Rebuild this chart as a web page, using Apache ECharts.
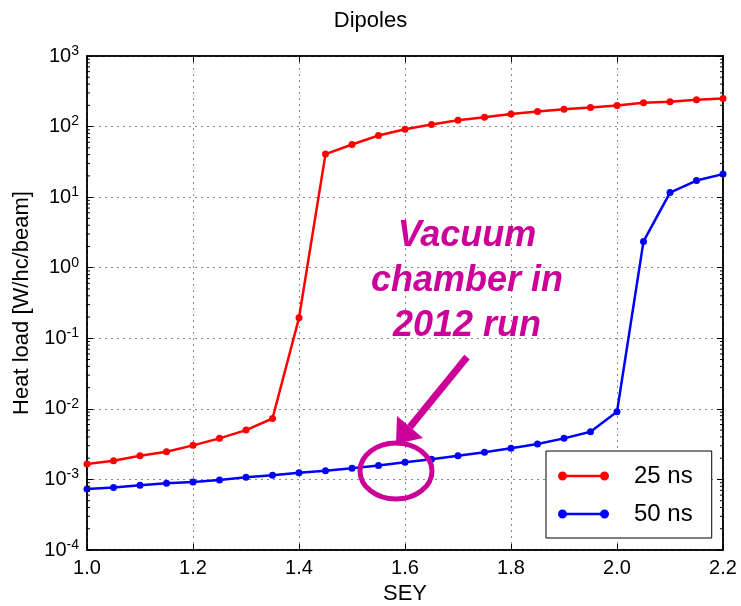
<!DOCTYPE html>
<html>
<head>
<meta charset="utf-8">
<script src="https://cdn.jsdelivr.net/npm/echarts@6/dist/echarts.min.js"></script>
<style>
  html, body { margin: 0; padding: 0; background: #fff; }
  #main { width: 741px; height: 606px; }
</style>
</head>
<body>
<div id="main"></div>
<script>
var sey = [1.00, 1.05, 1.10, 1.15, 1.20, 1.25, 1.30, 1.35, 1.40, 1.45, 1.50, 1.55, 1.60,
           1.65, 1.70, 1.75, 1.80, 1.85, 1.90, 1.95, 2.00, 2.05, 2.10, 2.15, 2.20];
var load25 = [1.65e-3, 1.84e-3, 2.17e-3, 2.47e-3, 3.04e-3, 3.82e-3, 5.0e-3, 7.3e-3, 0.195,
              40.7, 55.7, 74.8, 91.8, 107, 123, 136, 151, 163, 176, 186, 199, 217, 224, 239, 250];
var load50 = [7.3e-4, 7.7e-4, 8.25e-4, 8.8e-4, 9.2e-4, 9.8e-4, 1.07e-3, 1.15e-3, 1.24e-3,
              1.33e-3, 1.44e-3, 1.58e-3, 1.75e-3, 1.93e-3, 2.17e-3, 2.42e-3, 2.76e-3, 3.18e-3,
              3.82e-3, 4.74e-3, 9.1e-3, 2.36, 11.6, 17.2, 21.2];
var seriesNames = ['25 ns', '50 ns'];
var noteLines = ['Vacuum', 'chamber in', '2012 run'];

// minor ticks of the log axis (2..9 in each decade)
var minorTicks = [];
for (var d = -4; d < 3; d++) {
  for (var m = 2; m <= 9; m++) minorTicks.push([1.0, m * Math.pow(10, d)]);
}

var font = '"Liberation Sans", Arial, sans-serif';
var magenta = '#cc0099';

// legend icon: line with a marker at each end (matplotlib style)
function disc(cx, cy, r) {
  var s = '';
  for (var k = 0; k < 16; k++) {
    var a = k / 16 * Math.PI * 2;
    s += (k ? 'L' : 'M') + (cx + r * Math.cos(a)).toFixed(2) + ',' + (cy + r * Math.sin(a)).toFixed(2);
  }
  return s + 'Z';
}
var legendIcon = 'path://' + disc(4.5, 4.5, 4.5) + disc(46.5, 4.5, 4.5) +
                 'M4.5,3.3L46.5,3.3L46.5,5.7L4.5,5.7Z';

function pair(xs, ys) {
  var out = [];
  for (var i = 0; i < xs.length; i++) out.push([xs[i], ys[i]]);
  return out;
}

var myChart = echarts.init(document.getElementById('main'));

var option = {
  backgroundColor: '#fff',
  animation: false,
  title: {
    text: 'Dipoles',
    left: 'center',
    top: 5,
    textStyle: { fontFamily: font, fontSize: 22, fontWeight: 'normal', color: '#000' }
  },
  grid: {
    left: 87, right: 18, top: 56, bottom: 56,
    outerBoundsMode: 'none',
    show: true, borderColor: '#000', borderWidth: 1.5
  },
  legend: {
    orient: 'vertical',
    left: 546,
    top: 451,
    padding: [13, 19, 12, 12],
    itemGap: 14,
    itemWidth: 51,
    itemHeight: 9,
    icon: legendIcon,
    itemStyle: { borderWidth: 0 },
    borderColor: '#000',
    borderWidth: 1,
    backgroundColor: '#fff',
    textStyle: { fontFamily: font, fontSize: 24, color: '#000', padding: [0, 0, 0, 20] },
    data: seriesNames
  },
  xAxis: [{
    type: 'value',
    min: 1.0,
    max: 2.2,
    interval: 0.2,
    name: 'SEY',
    nameLocation: 'middle',
    nameGap: 28,
    nameTextStyle: { fontFamily: font, fontSize: 22, color: '#000' },
    axisLine: { show: true, lineStyle: { color: '#000', width: 1.5 } },
    axisTick: { inside: true, length: 6, lineStyle: { color: '#000' } },
    axisLabel: {
      fontFamily: font, fontSize: 20, color: '#000', margin: 8,
      formatter: function (v) { return v.toFixed(1); }
    },
    splitLine: { show: true, lineStyle: { color: '#888', type: [2, 4], width: 1 } }
  }, {
    type: 'value',
    position: 'top',
    min: 1.0,
    max: 2.2,
    interval: 0.2,
    axisLine: { show: true, lineStyle: { color: '#000', width: 1.5 } },
    axisTick: { inside: true, length: 6, lineStyle: { color: '#000' } },
    axisLabel: { show: false },
    splitLine: { show: false }
  }],
  yAxis: [{
    type: 'log',
    logBase: 10,
    min: 1e-4,
    max: 1e3,
    name: 'Heat load [W/hc/beam]',
    nameLocation: 'middle',
    nameGap: 54,
    nameTextStyle: { fontFamily: font, fontSize: 22, color: '#000' },
    axisLine: { show: true, lineStyle: { color: '#000', width: 1.5 } },
    axisTick: { inside: true, length: 6, lineStyle: { color: '#000' } },
    axisLabel: {
      fontFamily: font, fontSize: 20, color: '#000', margin: 8,
      formatter: function (v) {
        return '10{sup|' + Math.round(Math.log10(v)) + '}';
      },
      rich: {
        sup: { fontFamily: font, fontSize: 14, color: '#000', verticalAlign: 'top', padding: [0, 0, 10, 0] }
      }
    },
    splitLine: { show: true, lineStyle: { color: '#888', type: [2, 4], width: 1 } }
  }, {
    type: 'log',
    logBase: 10,
    position: 'right',
    min: 1e-4,
    max: 1e3,
    axisLine: { show: true, lineStyle: { color: '#000', width: 1.5 } },
    axisTick: { inside: true, length: 6, lineStyle: { color: '#000' } },
    axisLabel: { show: false },
    splitLine: { show: false }
  }],
  series: [{
    name: seriesNames[0],
    type: 'line',
    data: pair(sey, load25),
    symbol: 'circle',
    symbolSize: 7,
    color: '#ff0000',
    lineStyle: { width: 2.5, color: '#ff0000' },
    itemStyle: { color: '#ff0000' },
    z: 3
  }, {
    name: seriesNames[1],
    type: 'line',
    data: pair(sey, load50),
    symbol: 'circle',
    symbolSize: 7,
    color: '#0000ff',
    lineStyle: { width: 2.5, color: '#0000ff' },
    itemStyle: { color: '#0000ff' },
    z: 3
  }, {
    // minor log ticks on left and right edges
    name: 'minor',
    type: 'custom',
    silent: true,
    data: minorTicks,
    renderItem: function (params, api) {
      var p = api.coord([api.value(0), api.value(1)]);
      var r = params.coordSys.x + params.coordSys.width;
      return {
        type: 'group',
        children: [
          { type: 'line', shape: { x1: p[0], y1: p[1], x2: p[0] + 3, y2: p[1] }, style: { stroke: '#000', lineWidth: 1 } },
          { type: 'line', shape: { x1: r, y1: p[1], x2: r - 3, y2: p[1] }, style: { stroke: '#000', lineWidth: 1 } }
        ]
      };
    },
    z: 4
  }],
  graphic: [{
    type: 'text',
    x: 467,
    y: 214,
    style: {
      text: noteLines.join('\n'),
      align: 'center',
      fontFamily: font,
      fontSize: 36,
      fontWeight: 'bold',
      fontStyle: 'italic',
      lineHeight: 45,
      fill: magenta
    },
    z: 10
  }, {
    type: 'line',
    shape: { x1: 467, y1: 357, x2: 410, y2: 427 },
    style: { stroke: magenta, lineWidth: 7 },
    z: 10
  }, {
    type: 'polygon',
    shape: { points: [[396, 444], [423, 438], [397, 416]] },
    style: { fill: magenta },
    z: 10
  }, {
    type: 'ellipse',
    shape: { cx: 396, cy: 471, rx: 36, ry: 28 },
    style: { fill: 'none', stroke: magenta, lineWidth: 5 },
    z: 10
  }]
};

myChart.setOption(option);
</script>
</body>
</html>
